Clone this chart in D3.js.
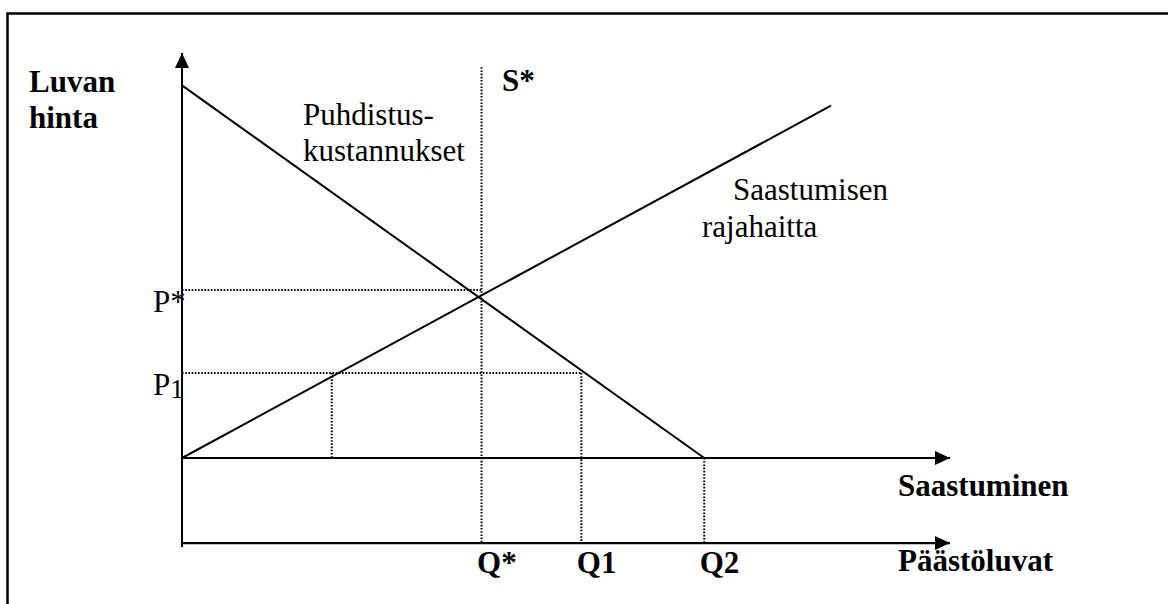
<!DOCTYPE html>
<html>
<head>
<meta charset="utf-8">
<script src="https://cdn.jsdelivr.net/npm/d3@7"></script>
<style>
  body { margin: 0; background: #fff; }
  svg text { font-family: "Liberation Serif", "Times New Roman", serif; font-size: 31px; fill: #000; }
</style>
</head>
<body>
<div></div>
<script>
const width = 1168
const height = 604

// values (abstract units)
const qLabels = ["Q*", "Q1", "Q2"]
const qValues = [3.9, 5.2, 6.8]
const pLabels = ["P*", "P1"]
const pValues = [4.15, 2.1]
const demand = [[0, 9.2], [6.8, 0]]        // Puhdistuskustannukset
const supply = [[0, 0], [8.45, 8.7]]       // Saastumisen rajahaitta
const sStarTop = 9.65
const qLeft = 1.95                          // where P1 meets the supply line
const lowAxis = -2.1                        // Päästöluvat axis level
const axisMax = 10

const x = d3.scaleLinear().domain([0, 10]).range([182, 950])
const y = d3.scaleLinear().domain([0, 10]).range([458, 53])

const svg = d3.select("div")
    .append("svg")
    .attr("width", width)
    .attr("height", height)

const defs = svg.append("defs")
defs.append("marker")
    .attr("id", "arrow")
    .attr("markerUnits", "userSpaceOnUse")
    .attr("markerWidth", 16).attr("markerHeight", 16)
    .attr("viewBox", "0 -8 16 16")
    .attr("refX", 15).attr("refY", 0)
    .attr("orient", "auto")
  .append("path")
    .attr("d", "M0,-7L15,0L0,7Z")
    .attr("fill", "#000")

// frame
svg.append("path")
    .attr("d", "M7.5,604V13.5H1168")
    .attr("fill", "none")
    .attr("stroke", "#000")
    .attr("stroke-width", 2.5)

const line = d3.line().x(d => x(d[0])).y(d => y(d[1]))

// dotted guide lines
const guides = [
  [[0, pValues[0]], [qValues[0], pValues[0]]],
  [[0, pValues[1]], [qValues[1], pValues[1]]],
  [[qValues[0], sStarTop], [qValues[0], lowAxis]],
  [[qValues[1], pValues[1]], [qValues[1], lowAxis]],
  [[qValues[2], 0], [qValues[2], lowAxis]],
  [[qLeft, pValues[1]], [qLeft, 0]]
]
svg.selectAll(".guide")
    .data(guides)
    .join("path")
    .attr("class", "guide")
    .attr("d", line)
    .attr("fill", "none")
    .attr("stroke", "#000")
    .attr("stroke-width", 2)
    .attr("stroke-dasharray", "1.6,1.6")

// axes
svg.append("path")
    .attr("d", line([[0, lowAxis - 0.1], [0, axisMax]]))
    .attr("stroke", "#000").attr("stroke-width", 2)
    .attr("marker-end", "url(#arrow)")
svg.append("path")
    .attr("d", line([[0, 0], [axisMax, 0]]))
    .attr("stroke", "#000").attr("stroke-width", 2)
    .attr("marker-end", "url(#arrow)")
svg.append("path")
    .attr("d", line([[0, lowAxis], [axisMax, lowAxis]]))
    .attr("stroke", "#000").attr("stroke-width", 2.2)
    .attr("marker-end", "url(#arrow)")

// curves
svg.selectAll(".curve")
    .data([demand, supply])
    .join("path")
    .attr("class", "curve")
    .attr("d", line)
    .attr("fill", "none")
    .attr("stroke", "#000")
    .attr("stroke-width", 2)

// Q labels on the lower axis
const qAxis = svg.append("g")
    .attr("transform", `translate(0,${y(lowAxis)})`)
    .call(d3.axisBottom(x).tickValues(qValues)
        .tickFormat((d, i) => qLabels[i]).tickSize(0).tickPadding(8))
qAxis.select(".domain").remove()
qAxis.selectAll("text")
    .attr("font-family", null).attr("font-size", null)
    .attr("text-anchor", "start")
    .attr("dx", -5)
    .style("font-weight", "bold")

// P labels
const pText = svg.selectAll(".plabel")
    .data(pValues)
    .join("text")
    .attr("class", "plabel")
    .attr("x", x(0) - 29)
    .attr("y", d => y(d) + 22)
pText.each(function (d, i) {
  const t = d3.select(this)
  const lab = pLabels[i]
  if (lab === "P1") {
    t.append("tspan").text("P")
    t.append("tspan").attr("dy", 3).style("font-size", "27px").text("1")
  } else {
    t.text(lab)
  }
})

// titles and curve names
const labels = [
  { t: "Luvan", x: 29, y: 92, b: true },
  { t: "hinta", x: 29, y: 128, b: true },
  { t: "S*", x: 502, y: 91, b: true },
  { t: "Puhdistus-", x: 303, y: 125, b: false },
  { t: "kustannukset", x: 303, y: 161, b: false },
  { t: "Saastumisen", x: 733, y: 200, b: false },
  { t: "rajahaitta", x: 702, y: 237, b: false },
  { t: "Saastuminen", x: 898, y: 496, b: true },
  { t: "Päästöluvat", x: 898, y: 571, b: true }
]
svg.selectAll(".lbl")
    .data(labels)
    .join("text")
    .attr("class", "lbl")
    .attr("x", d => d.x)
    .attr("y", d => d.y)
    .style("font-weight", d => d.b ? "bold" : "normal")
    .text(d => d.t)
</script>
</body>
</html>
